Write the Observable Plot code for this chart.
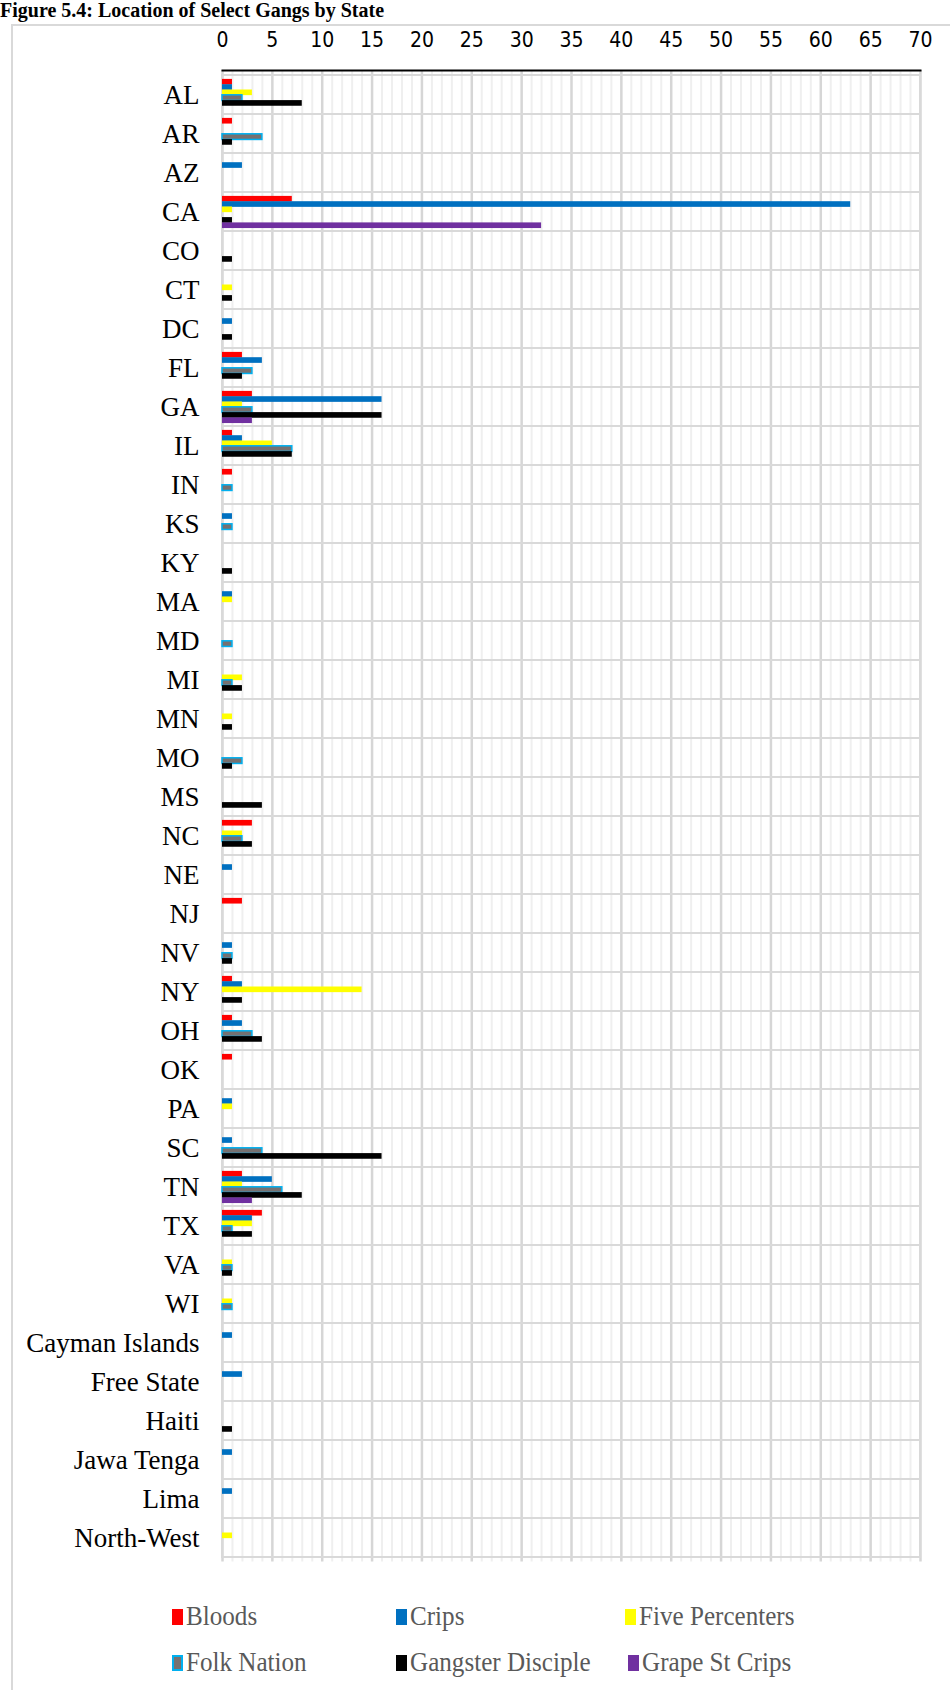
<!DOCTYPE html>
<html>
<head>
<meta charset="utf-8">
<script src="https://cdn.jsdelivr.net/npm/d3@7"></script>
<script src="https://cdn.jsdelivr.net/npm/@observablehq/plot@0.6"></script>
<style>
  html, body { margin: 0; padding: 0; background: #fff; }
  #page { position: relative; width: 950px; height: 1690px; overflow: hidden; background: #fff; }
  #frame { position: absolute; left: 11px; top: 24px; width: 960px; height: 1720px; border: 2px solid #d9d9d9; box-sizing: border-box; }
  #title { position: absolute; left: 0; top: -1px; font-family: "Liberation Serif", "Times New Roman", serif; font-weight: bold; font-size: 20px; line-height: 23px; color: #000; white-space: nowrap; }
  #chart { position: absolute; left: 0; top: 0; }
  #chart g[aria-label="x-axis tick label"] text { font-family: "Liberation Sans Narrow", "DejaVu Sans Condensed", "Open Sans", sans-serif; font-size: 21px; fill: #000; }
  #chart g[aria-label="y-axis tick label"] text { font-family: "Liberation Serif", "Times New Roman", serif; font-size: 27px; fill: #000; }
  .leg { position: absolute; display: flex; align-items: center; font-family: "Liberation Serif", "Times New Roman", serif; font-size: 27px; color: #595959; white-space: nowrap; }
  .leg .sw { width: 11px; height: 16px; margin-right: 3px; box-sizing: border-box; }
  .leg span { display: inline-block; transform: scaleX(0.93); transform-origin: left center; }
</style>
</head>
<body>
<div id="page">
  <div id="frame"></div>
  <div id="title">Figure 5.4: Location of Select Gangs by State</div>
  <div id="chart"></div>
  <div id="legend"></div>
</div>
<script>
const states = ["AL","AR","AZ","CA","CO","CT","DC","FL","GA","IL","IN","KS","KY","MA","MD","MI","MN","MO","MS","NC","NE","NJ","NV","NY","OH","OK","PA","SC","TN","TX","VA","WI","Cayman Islands","Free State","Haiti","Jawa Tenga","Lima","North-West"];
const seriesNames = ["Bloods","Crips","Five Percenters","Folk Nation","Gangster Disciple","Grape St Crips"];
//                  AL AR AZ CA CO CT DC FL GA IL IN KS KY MA MD MI MN MO MS NC NE NJ NV NY OH OK PA SC TN TX VA WI Cay FS Hai Jaw Lim NW
const bloods      = [1, 1, 0, 7, 0, 0, 0, 2, 3, 1, 1, 0, 0, 0, 0, 0, 0, 0, 0, 3, 0, 2, 0, 1, 1, 1, 0, 0, 2, 4, 0, 0, 0, 0, 0, 0, 0, 0];
const crips       = [1, 0, 2,63, 0, 0, 1, 4,16, 2, 0, 1, 0, 1, 0, 0, 0, 0, 0, 0, 1, 0, 1, 2, 2, 0, 1, 1, 5, 3, 0, 0, 1, 2, 0, 1, 1, 0];
const fivePct     = [3, 0, 0, 1, 0, 1, 0, 0, 2, 5, 0, 0, 0, 1, 0, 2, 1, 0, 0, 2, 0, 0, 0,14, 0, 0, 1, 0, 2, 3, 1, 1, 0, 0, 0, 0, 0, 1];
const folkNation  = [2, 4, 0, 0, 0, 0, 0, 3, 3, 7, 1, 1, 0, 0, 1, 1, 0, 2, 0, 2, 0, 0, 1, 0, 3, 0, 0, 4, 6, 1, 1, 1, 0, 0, 0, 0, 0, 0];
const gangsterDis = [8, 1, 0, 1, 1, 1, 1, 2,16, 7, 0, 0, 1, 0, 0, 2, 1, 1, 4, 3, 0, 0, 1, 2, 4, 0, 0,16, 8, 3, 1, 0, 0, 0, 1, 0, 0, 0];
const grapeSt     = [0, 0, 0,32, 0, 0, 0, 0, 3, 0, 0, 0, 0, 0, 0, 0, 0, 0, 0, 0, 0, 0, 0, 0, 0, 0, 0, 0, 3, 0, 0, 0, 0, 0, 0, 0, 0, 0];
const xTicks = [0,5,10,15,20,25,30,35,40,45,50,55,60,65,70];

const seriesValues = [bloods, crips, fivePct, folkNation, gangsterDis, grapeSt];
const fills   = ["#ff0000", "#0070c0", "#ffff00", "#767171", "#000000", "#7030a0"];
const strokes = [null, null, null, "#00b0f0", null, null];

const W = 950, H = 1582, mT = 70, mB = 20.5, mL = 222, mR = 30;
const bw = (H - mT - mB) / states.length;
const slotStart = 3.9, slotStep = 5.3, barH = 5.9;

const minor = d3.range(0, 71).filter(v => v % 5 !== 0);

const barMarks = seriesValues.map((vals, i) => {
  const rows = states.map((s, j) => ({state: s, value: vals[j], series: seriesNames[i]})).filter(d => d.value > 0);
  const top = slotStart + i * slotStep;
  return Plot.barX(rows, {
    x1: 0, x2: "value", y: "state",
    fill: fills[i],
    stroke: strokes[i] || undefined,
    strokeWidth: strokes[i] ? 1.5 : undefined,
    insetTop: top, insetBottom: bw - top - barH
  });
});

const chart = Plot.plot({
  width: W, height: H,
  marginTop: mT, marginBottom: mB, marginLeft: mL, marginRight: mR,
  x: {domain: [0, 70]},
  y: {domain: states, padding: 0},
  style: {background: "transparent", overflow: "visible"},
  marks: [
    Plot.ruleX(minor, {stroke: "#efefef", strokeWidth: 2}),
    Plot.ruleX(xTicks, {stroke: "#d6d6d6", strokeWidth: 2.5}),
    Plot.barX(states, {x1: 0, x2: 70, y: d => d, fill: "none", stroke: "#d9d9d9", strokeWidth: 2}),
    ...barMarks,
    Plot.frame({anchor: "top", stroke: "#000", strokeWidth: 2}),
    Plot.ruleX(xTicks, {y: () => states[0], stroke: "#000", strokeWidth: 2, insetBottom: bw - 7}),
    Plot.axisX({anchor: "top", ticks: xTicks, tickSize: 0, tickPadding: 24, label: null}),
    Plot.axisY({anchor: "left", tickSize: 0, tickPadding: 23, label: null})
  ]
});
document.getElementById("chart").appendChild(chart);

// legend
const legendPos = [
  [172, 1617], [396, 1617], [625, 1617],
  [172, 1663], [396, 1663], [628, 1663]
];
const legend = document.getElementById("legend");
seriesNames.forEach((name, i) => {
  const item = document.createElement("div");
  item.className = "leg";
  item.style.left = legendPos[i][0] + "px";
  item.style.top = (legendPos[i][1] - 16) + "px";
  const sw = document.createElement("div");
  sw.className = "sw";
  sw.style.background = fills[i];
  if (strokes[i]) sw.style.border = "2px solid " + strokes[i];
  const t = document.createElement("span");
  t.textContent = name;
  item.appendChild(sw);
  item.appendChild(t);
  legend.appendChild(item);
});
</script>
</body>
</html>
